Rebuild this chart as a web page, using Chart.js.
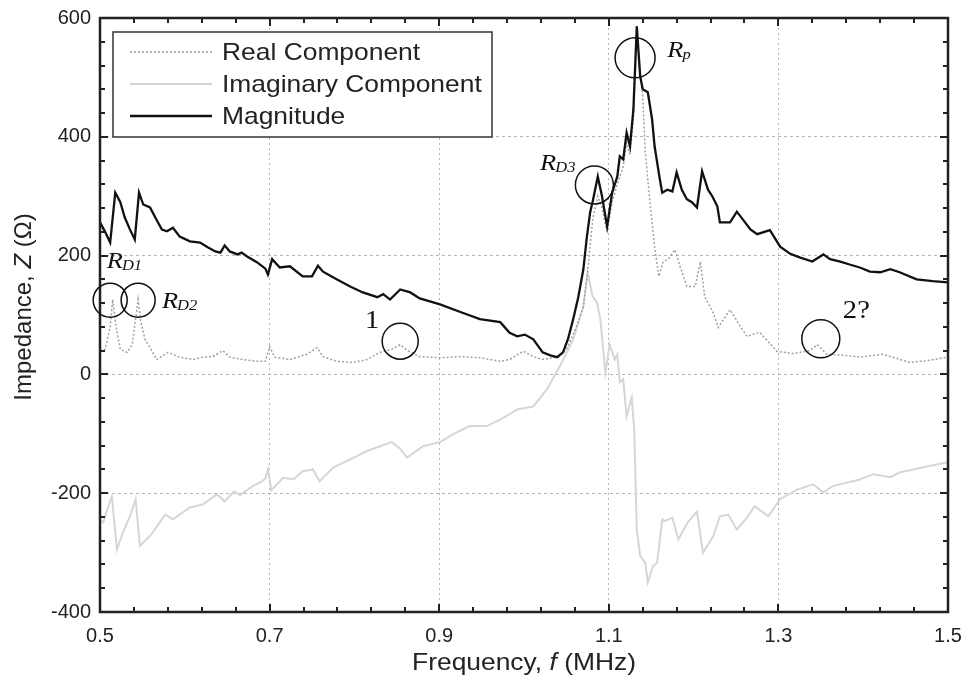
<!DOCTYPE html>
<html lang="en">
<head>
<meta charset="UTF-8" />
<title>Impedance vs Frequency</title>
<style>
    body, html {
        margin: 0;
        padding: 0;
        background: #fff;
        overflow: hidden;
    }
    #chart {
        display: block;
    }
</style>
</head>
<body>
<canvas id="chart" width="967" height="681"></canvas>
<script src="https://cdn.jsdelivr.net/npm/chart.js@4.4.0/dist/chart.umd.min.js"></script>
<script>
// tick labels
const xTicks = [0.5, 0.7, 0.9, 1.1, 1.3, 1.5];
const yTicks = [-400, -200, 0, 200, 400, 600];

// Magnitude |Z| (ohm) vs frequency (MHz)
const magF = [0.500, 0.506, 0.512, 0.518, 0.524, 0.529, 0.535, 0.541, 0.546, 0.551,
    0.559, 0.566, 0.573, 0.579, 0.586, 0.594, 0.606, 0.618, 0.627, 0.636,
    0.642, 0.647, 0.653, 0.662, 0.667, 0.673, 0.685, 0.695, 0.698, 0.703,
    0.712, 0.724, 0.739, 0.750, 0.757, 0.763, 0.779, 0.795, 0.810, 0.827,
    0.834, 0.842, 0.854, 0.866, 0.877, 0.901, 0.925, 0.948, 0.972, 0.983,
    0.992, 1.001, 1.011, 1.022, 1.031, 1.039, 1.046, 1.052, 1.058, 1.064,
    1.070, 1.074, 1.078, 1.081, 1.087, 1.092, 1.098, 1.104, 1.110, 1.113,
    1.117, 1.121, 1.125, 1.129, 1.133, 1.137, 1.140, 1.146, 1.151, 1.154,
    1.160, 1.163, 1.169, 1.175, 1.180, 1.186, 1.192, 1.198, 1.204, 1.210,
    1.217, 1.222, 1.228, 1.231, 1.237, 1.243, 1.251, 1.258, 1.267, 1.275,
    1.290, 1.302, 1.314, 1.325, 1.340, 1.353, 1.361, 1.373, 1.384, 1.396,
    1.408, 1.420, 1.432, 1.443, 1.463, 1.482, 1.500];
const magZ = [256, 240, 222, 306, 290, 265, 245, 227, 306, 286,
    281, 262, 244, 241, 247, 232, 224, 222, 214, 207,
    205, 217, 207, 202, 205, 199, 189, 178, 168, 194,
    180, 182, 165, 165, 183, 173, 160, 148, 138, 130,
    135, 126, 143, 138, 128, 118, 105, 93, 88, 70,
    64, 67, 59, 37, 32, 29, 37, 60, 93, 130,
    177, 230, 273, 291, 333, 300, 249, 306, 333, 367,
    362, 407, 384, 446, 586, 502, 480, 475, 430, 384,
    330, 306, 311, 308, 340, 311, 295, 290, 281, 342,
    311, 300, 283, 256, 256, 256, 274, 261, 244, 236,
    243, 215, 203, 197, 190, 202, 194, 190, 185, 180,
    173, 172, 177, 172, 160, 157, 155];

// Real component
const realF = [0.500, 0.506, 0.512, 0.515, 0.519, 0.524, 0.532, 0.538, 0.545, 0.548,
    0.553, 0.559, 0.567, 0.580, 0.594, 0.610, 0.621, 0.633, 0.645, 0.653,
    0.669, 0.685, 0.695, 0.700, 0.706, 0.724, 0.744, 0.756, 0.763, 0.779,
    0.798, 0.815, 0.830, 0.844, 0.854, 0.863, 0.877, 0.901, 0.925, 0.948,
    0.972, 0.983, 0.999, 1.011, 1.022, 1.042, 1.051, 1.062, 1.070, 1.075,
    1.081, 1.087, 1.092, 1.098, 1.104, 1.110, 1.117, 1.121, 1.125, 1.129,
    1.133, 1.137, 1.140, 1.143, 1.149, 1.154, 1.159, 1.164, 1.170, 1.178,
    1.184, 1.192, 1.202, 1.208, 1.213, 1.223, 1.229, 1.243, 1.255, 1.263,
    1.278, 1.298, 1.317, 1.337, 1.346, 1.357, 1.379, 1.396, 1.423, 1.455,
    1.479, 1.500];
const realZ = [40, 42, 80, 126, 80, 42, 37, 50, 126, 90,
    59, 45, 25, 37, 29, 25, 29, 30, 40, 29,
    25, 22, 22, 47, 29, 25, 34, 45, 30, 22,
    20, 25, 37, 42, 50, 40, 30, 28, 30, 28,
    22, 25, 39, 30, 25, 30, 45, 81, 114, 172,
    261, 300, 280, 240, 290, 320, 350, 390, 370, 430,
    570, 513, 468, 374, 283, 215, 165, 189, 194, 210,
    182, 148, 148, 190, 131, 104, 79, 109, 81, 64,
    71, 39, 35, 40, 50, 34, 32, 29, 34, 20,
    24, 29];

// Imaginary component
const imagF = [0.500, 0.504, 0.508, 0.514, 0.520, 0.527, 0.535, 0.542, 0.547, 0.559,
    0.577, 0.586, 0.606, 0.621, 0.638, 0.647, 0.658, 0.665, 0.680, 0.690,
    0.695, 0.698, 0.702, 0.716, 0.728, 0.739, 0.751, 0.759, 0.775, 0.795,
    0.815, 0.830, 0.844, 0.854, 0.862, 0.881, 0.901, 0.916, 0.936, 0.956,
    0.972, 0.992, 1.011, 1.027, 1.042, 1.058, 1.070, 1.075, 1.081, 1.086,
    1.090, 1.096, 1.101, 1.107, 1.110, 1.113, 1.117, 1.121, 1.127, 1.130,
    1.133, 1.137, 1.143, 1.146, 1.152, 1.157, 1.163, 1.166, 1.175, 1.182,
    1.193, 1.204, 1.211, 1.223, 1.231, 1.241, 1.251, 1.263, 1.272, 1.288,
    1.302, 1.322, 1.341, 1.353, 1.364, 1.396, 1.412, 1.432, 1.443, 1.475,
    1.500];
const imagZ = [-245, -249, -230, -205, -295, -266, -240, -210, -289, -272,
    -236, -244, -224, -219, -202, -214, -197, -203, -188, -181,
    -175, -160, -195, -174, -177, -163, -160, -180, -157, -143,
    -129, -121, -114, -125, -140, -121, -114, -101, -87, -87,
    -76, -59, -54, -25, 13, 59, 114, 172, 131, 121,
    93, 3, 50, 25, 34, -13, -8, -71, -39, -93,
    -261, -306, -317, -350, -323, -317, -244, -247, -241, -278,
    -249, -231, -300, -273, -239, -236, -261, -241, -222, -239,
    -210, -194, -185, -199, -188, -177, -168, -173, -165, -155,
    -148];

// circled features and their labels
const circles = [
    { f: 0.512, z: 125, r: 17 },
    { f: 0.545, z: 125, r: 17 },
    { f: 0.854, z: 56, r: 18 },
    { f: 1.350, z: 60, r: 19 },
    { f: 1.083, z: 319, r: 19 },
    { f: 1.131, z: 533, r: 20 }
];
const notes = [
    { f: 0.508, z: 179, main: "R", sub: "D1" },
    { f: 0.573, z: 112, main: "R", sub: "D2" },
    { f: 0.8125, z: 78, main: "1", sub: "" },
    { f: 1.376, z: 95, main: "2?", sub: "" },
    { f: 1.019, z: 344, main: "R", sub: "D3" },
    { f: 1.169, z: 535, main: "R", sub: "p" }
];

const legendItems = [
    { text: "Real Component", color: "#9a9a9a", width: 1.5, dash: [2, 2] },
    { text: "Imaginary Component", color: "#d4d4d4", width: 2, dash: [] },
    { text: "Magnitude", color: "#111", width: 2.5, dash: [] }
];

function pts(fs, zs) {
    return fs.map((f, i) => ({ x: f, y: zs[i] }));
}

const SANS = "'Liberation Sans', Arial, sans-serif";
const SERIF = "'Liberation Serif', 'Times New Roman', serif";
const SX = 1.1; // the source picture is a little wider than tall

// text drawn a bit wider, like the source
function wideText(ctx, t, x, y) {
    ctx.save();
    ctx.translate(x, y);
    ctx.scale(SX, 1);
    ctx.fillText(t, 0, 0);
    ctx.restore();
    return ctx.measureText(t).width * SX;
}

// frame, inner ticks, legend, annotations, axis titles
const decor = {
    id: "decor",
    afterDraw(chart) {
        const ctx = chart.ctx;
        const a = chart.chartArea;
        const xs = chart.scales.x, ys = chart.scales.y;
        ctx.save();

        // inner ticks
        ctx.strokeStyle = "#222";
        ctx.lineWidth = 2;
        ctx.setLineDash([]);
        ctx.beginPath();
        for (let i = 0; i <= 25; i++) {
            const v = 0.5 + i * 0.04;
            const px = Math.round(xs.getPixelForValue(v));
            const len = i % 5 === 0 ? 8 : 5;
            ctx.moveTo(px, a.bottom); ctx.lineTo(px, a.bottom - len);
            ctx.moveTo(px, a.top); ctx.lineTo(px, a.top + len);
        }
        for (let i = 0; i <= 25; i++) {
            const v = -400 + i * 40;
            const py = Math.round(ys.getPixelForValue(v));
            const len = i % 5 === 0 ? 8 : 5;
            ctx.moveTo(a.left, py); ctx.lineTo(a.left + len, py);
            ctx.moveTo(a.right, py); ctx.lineTo(a.right - len, py);
        }
        ctx.stroke();
        ctx.lineWidth = 2.5;
        ctx.strokeRect(a.left, a.top, a.right - a.left, a.bottom - a.top);

        // legend
        const lx = a.left + 13, ly = a.top + 14;
        ctx.fillStyle = "#fff";
        ctx.fillRect(lx, ly, 379, 105);
        ctx.strokeStyle = "#333";
        ctx.lineWidth = 1.5;
        ctx.strokeRect(lx, ly, 379, 105);
        ctx.font = "24px " + SANS;
        ctx.textBaseline = "middle";
        ctx.textAlign = "left";
        legendItems.forEach((it, i) => {
            const y = ly + 20 + i * 32;
            ctx.strokeStyle = it.color;
            ctx.lineWidth = it.width;
            ctx.setLineDash(it.dash);
            ctx.beginPath();
            ctx.moveTo(lx + 17, y); ctx.lineTo(lx + 99, y);
            ctx.stroke();
            ctx.setLineDash([]);
            ctx.fillStyle = "#222";
            wideText(ctx, it.text, lx + 109, y + 1);
        });

        // circles
        ctx.strokeStyle = "#111";
        ctx.lineWidth = 1.5;
        circles.forEach(c => {
            ctx.beginPath();
            ctx.arc(xs.getPixelForValue(c.f), ys.getPixelForValue(c.z), c.r, 0, Math.PI * 2);
            ctx.stroke();
        });

        // labels
        ctx.fillStyle = "#111";
        ctx.textBaseline = "alphabetic";
        notes.forEach(n => {
            const x = xs.getPixelForValue(n.f), y = ys.getPixelForValue(n.z);
            if (n.sub) {
                ctx.font = "italic 24px " + SERIF;
                const w = wideText(ctx, n.main, x, y);
                ctx.font = "italic 15px " + SERIF;
                wideText(ctx, n.sub, x + w - 1, y + 2);
            } else {
                ctx.font = "26px " + SERIF;
                wideText(ctx, n.main, x, y);
            }
        });

        // axis titles with italic symbols
        function mixed(parts, cx, cy, sx) {
            let total = 0;
            parts.forEach(p => {
                ctx.font = (p.it ? "italic " : "") + p.size + "px " + SANS;
                p.w = ctx.measureText(p.t).width * sx;
                total += p.w;
            });
            let x = cx - total / 2;
            parts.forEach(p => {
                ctx.font = (p.it ? "italic " : "") + p.size + "px " + SANS;
                ctx.save();
                ctx.translate(x, cy);
                ctx.scale(sx, 1);
                ctx.fillText(p.t, 0, 0);
                ctx.restore();
                x += p.w;
            });
        }
        ctx.fillStyle = "#222";
        mixed([{ t: "Frequency, ", size: 24 }, { t: "f", it: true, size: 24 }, { t: " (MHz)", size: 24 }],
            (a.left + a.right) / 2, 670, SX);
        ctx.save();
        ctx.translate(31, (a.top + a.bottom) / 2 - 8);
        ctx.rotate(-Math.PI / 2);
        mixed([{ t: "Impedance, ", size: 24 }, { t: "Z", it: true, size: 24 }, { t: " (Ω)", size: 24 }], 0, 0, 1);
        ctx.restore();

        ctx.restore();
    }
};

const gridStyle = {
    color: "#b4b4b4",
    lineWidth: 1,
    drawTicks: false
};

new Chart(document.getElementById("chart"), {
    type: "line",
    data: {
        datasets: [
            {
                label: "Magnitude",
                data: pts(magF, magZ),
                borderColor: "#111",
                borderWidth: 2.3,
                pointRadius: 0,
                order: 1
            },
            {
                label: "Real Component",
                data: pts(realF, realZ),
                borderColor: "#a0a0a0",
                borderWidth: 1.5,
                borderDash: [2, 2],
                pointRadius: 0,
                order: 2
            },
            {
                label: "Imaginary Component",
                data: pts(imagF, imagZ),
                borderColor: "#d6d6d6",
                borderWidth: 2,
                pointRadius: 0,
                order: 3
            }
        ]
    },
    options: {
        responsive: false,
        animation: false,
        devicePixelRatio: 1,
        layout: { padding: { top: 18, right: 19, left: 0, bottom: 0 } },
        plugins: {
            legend: { display: false },
            tooltip: { enabled: false }
        },
        scales: {
            x: {
                type: "linear",
                min: 0.5,
                max: 1.5,
                afterBuildTicks: s => { s.ticks = xTicks.map(v => ({ value: v })); },
                afterFit: s => {
                    s.height = 69;
                    s.paddingLeft = 0;
                    s.paddingRight = 0;
                },
                border: { display: false, dash: [2, 3] },
                grid: gridStyle,
                ticks: {
                    padding: 12,
                    color: "#222",
                    font: { family: SANS, size: 20 },
                    maxRotation: 0,
                    callback: v => String(v)
                }
            },
            y: {
                type: "linear",
                min: -400,
                max: 600,
                afterBuildTicks: s => { s.ticks = yTicks.map(v => ({ value: v })); },
                afterFit: s => {
                    s.width = 100;
                    s.paddingTop = 0;
                    s.paddingBottom = 0;
                },
                border: { display: false, dash: [3, 3] },
                grid: gridStyle,
                ticks: {
                    padding: 9,
                    color: "#222",
                    font: { family: SANS, size: 20 },
                    callback: v => String(v)
                }
            }
        }
    },
    plugins: [decor]
});
</script>
</body>
</html>
